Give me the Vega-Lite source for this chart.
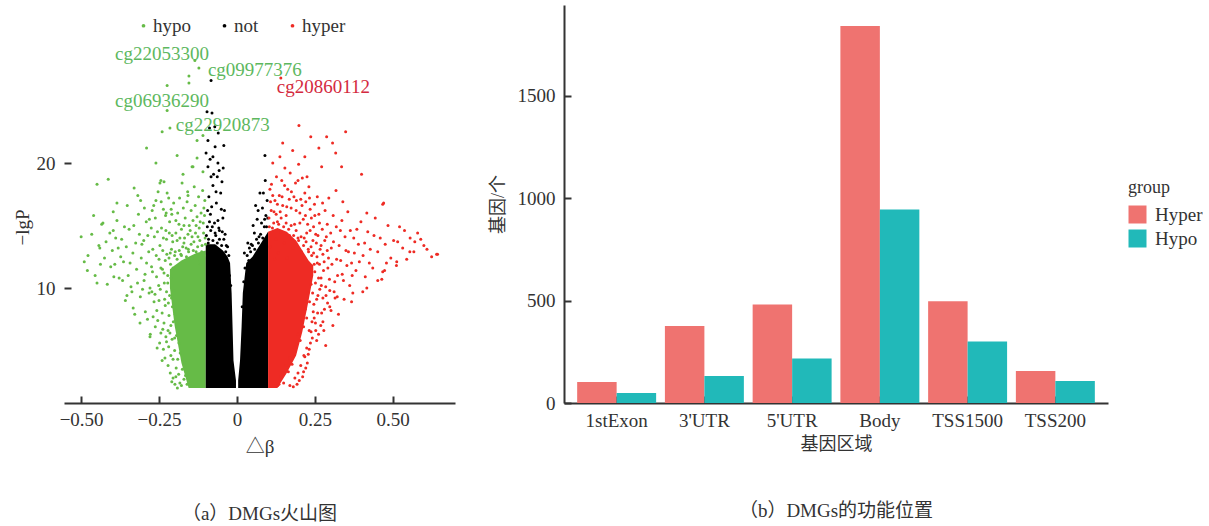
{
  "$schema": "https://vega.github.io/schema/vega-lite/v6.json",
  "padding": {"left": 13, "top": 5, "right": 0, "bottom": 0},
  "background": "white",
  "spacing": 34,
  "resolve": {"scale": {"color": "independent"}, "legend": {"color": "independent"}},
  "config": {
    "view": {"stroke": null},
    "font": "Liberation Serif",
    "axis": {
      "labelFont": "Liberation Serif", "labelFontSize": 19, "labelColor": "#333",
      "titleFont": "Liberation Serif, Noto Sans CJK SC", "titleFontSize": 19, "titleColor": "#333", "titleFontWeight": "normal",
      "domainColor": "#333", "domainWidth": 2, "tickColor": "#333", "tickWidth": 2, "tickSize": -7, "grid": false
    }
  },
  "datasets": {
    "cores": [
      {"d": -0.215, "bot": 10, "top": 11.5, "g": "hypo", "part": "h"},
      {"d": -0.2, "bot": 7, "top": 11.8, "g": "hypo", "part": "h"},
      {"d": -0.178, "bot": 4, "top": 12.2, "g": "hypo", "part": "h"},
      {"d": -0.155, "bot": 2, "top": 12.5, "g": "hypo", "part": "h"},
      {"d": -0.13, "bot": 2, "top": 12.8, "g": "hypo", "part": "h"},
      {"d": -0.1, "bot": 2, "top": 13, "g": "hypo", "part": "h"},
      {"d": -0.1, "bot": 2, "top": 13.5, "g": "not", "part": "nl"},
      {"d": -0.07, "bot": 2, "top": 13.5, "g": "not", "part": "nl"},
      {"d": -0.045, "bot": 2, "top": 13, "g": "not", "part": "nl"},
      {"d": -0.03, "bot": 2, "top": 12.5, "g": "not", "part": "nl"},
      {"d": -0.022, "bot": 2, "top": 12, "g": "not", "part": "nl"},
      {"d": -0.017, "bot": 2, "top": 9.6, "g": "not", "part": "nl"},
      {"d": -0.014, "bot": 2, "top": 6.9, "g": "not", "part": "nl"},
      {"d": -0.011, "bot": 2, "top": 4.2, "g": "not", "part": "nl"},
      {"d": -0.003, "bot": 2, "top": 2.6, "g": "not", "part": "nl"},
      {"d": 0.004, "bot": 2, "top": 2.6, "g": "not", "part": "nr"},
      {"d": 0.01, "bot": 2, "top": 4.2, "g": "not", "part": "nr"},
      {"d": 0.015, "bot": 2, "top": 6.9, "g": "not", "part": "nr"},
      {"d": 0.019, "bot": 2, "top": 9.6, "g": "not", "part": "nr"},
      {"d": 0.03, "bot": 2, "top": 12, "g": "not", "part": "nr"},
      {"d": 0.05, "bot": 2, "top": 12.5, "g": "not", "part": "nr"},
      {"d": 0.075, "bot": 2, "top": 13.5, "g": "not", "part": "nr"},
      {"d": 0.1, "bot": 2, "top": 14.5, "g": "not", "part": "nr"},
      {"d": 0.1, "bot": 2, "top": 14.5, "g": "hyper", "part": "r"},
      {"d": 0.13, "bot": 2, "top": 14.8, "g": "hyper", "part": "r"},
      {"d": 0.16, "bot": 3.2, "top": 14.5, "g": "hyper", "part": "r"},
      {"d": 0.19, "bot": 4.6, "top": 13.8, "g": "hyper", "part": "r"},
      {"d": 0.21, "bot": 6.5, "top": 13, "g": "hyper", "part": "r"},
      {"d": 0.23, "bot": 9, "top": 12.2, "g": "hyper", "part": "r"},
      {"d": 0.245, "bot": 11, "top": 11.8, "g": "hyper", "part": "r"}
    ],
    "pts": [
      {"d":-0.105,"p":12.6,"g":"hypo"},{"d":-0.112,"p":13.4,"g":"hypo"},{"d":-0.118,"p":12.2,"g":"hypo"},{"d":-0.125,"p":14.1,"g":"hypo"},{"d":-0.131,"p":12.9,"g":"hypo"},{"d":-0.138,"p":13.7,"g":"hypo"},{"d":-0.144,"p":12.4,"g":"hypo"},{"d":-0.15,"p":14.6,"g":"hypo"},{"d":-0.156,"p":13.1,"g":"hypo"},{"d":-0.162,"p":12.5,"g":"hypo"},
      {"d":-0.168,"p":14.0,"g":"hypo"},{"d":-0.174,"p":13.3,"g":"hypo"},{"d":-0.18,"p":12.7,"g":"hypo"},{"d":-0.186,"p":15.1,"g":"hypo"},{"d":-0.192,"p":13.8,"g":"hypo"},{"d":-0.198,"p":12.9,"g":"hypo"},{"d":-0.108,"p":15.2,"g":"hypo"},{"d":-0.115,"p":16.0,"g":"hypo"},{"d":-0.121,"p":14.8,"g":"hypo"},{"d":-0.128,"p":15.7,"g":"hypo"},
      {"d":-0.134,"p":16.6,"g":"hypo"},{"d":-0.141,"p":15.4,"g":"hypo"},{"d":-0.147,"p":16.2,"g":"hypo"},{"d":-0.153,"p":15.0,"g":"hypo"},{"d":-0.16,"p":16.9,"g":"hypo"},{"d":-0.166,"p":15.6,"g":"hypo"},{"d":-0.172,"p":16.4,"g":"hypo"},{"d":-0.178,"p":14.7,"g":"hypo"},{"d":-0.184,"p":17.2,"g":"hypo"},{"d":-0.19,"p":16.0,"g":"hypo"},
      {"d":-0.196,"p":14.4,"g":"hypo"},{"d":-0.103,"p":17.0,"g":"hypo"},{"d":-0.11,"p":17.8,"g":"hypo"},{"d":-0.123,"p":17.3,"g":"hypo"},{"d":-0.137,"p":18.1,"g":"hypo"},{"d":-0.158,"p":17.7,"g":"hypo"},{"d":-0.176,"p":18.4,"g":"hypo"},{"d":-0.102,"p":14.0,"g":"hypo"},{"d":-0.117,"p":11.9,"g":"hypo"},{"d":-0.106,"p":16.4,"g":"hypo"},
      {"d":-0.205,"p":11.6,"g":"hypo"},{"d":-0.21,"p":9.2,"g":"hypo"},{"d":-0.214,"p":12.8,"g":"hypo"},{"d":-0.218,"p":7.8,"g":"hypo"},{"d":-0.222,"p":10.4,"g":"hypo"},{"d":-0.226,"p":13.9,"g":"hypo"},{"d":-0.23,"p":8.6,"g":"hypo"},{"d":-0.234,"p":11.2,"g":"hypo"},{"d":-0.238,"p":6.7,"g":"hypo"},{"d":-0.242,"p":14.8,"g":"hypo"},
      {"d":-0.246,"p":9.9,"g":"hypo"},{"d":-0.25,"p":12.3,"g":"hypo"},{"d":-0.254,"p":7.4,"g":"hypo"},{"d":-0.258,"p":10.9,"g":"hypo"},{"d":-0.262,"p":15.6,"g":"hypo"},{"d":-0.266,"p":8.9,"g":"hypo"},{"d":-0.27,"p":13.1,"g":"hypo"},{"d":-0.274,"p":11.7,"g":"hypo"},{"d":-0.278,"p":6.3,"g":"hypo"},{"d":-0.282,"p":9.6,"g":"hypo"},
      {"d":-0.286,"p":14.2,"g":"hypo"},{"d":-0.29,"p":12.0,"g":"hypo"},{"d":-0.294,"p":8.1,"g":"hypo"},{"d":-0.298,"p":10.6,"g":"hypo"},{"d":-0.208,"p":5.9,"g":"hypo"},{"d":-0.212,"p":4.6,"g":"hypo"},{"d":-0.219,"p":5.3,"g":"hypo"},{"d":-0.195,"p":3.6,"g":"hypo"},{"d":-0.2,"p":5.0,"g":"hypo"},{"d":-0.187,"p":3.1,"g":"hypo"},
      {"d":-0.183,"p":2.4,"g":"hypo"},{"d":-0.228,"p":6.1,"g":"hypo"},{"d":-0.236,"p":16.3,"g":"hypo"},{"d":-0.248,"p":5.6,"g":"hypo"},{"d":-0.26,"p":17.0,"g":"hypo"},{"d":-0.272,"p":16.2,"g":"hypo"},{"d":-0.216,"p":15.3,"g":"hypo"},{"d":-0.224,"p":17.6,"g":"hypo"},{"d":-0.244,"p":18.6,"g":"hypo"},{"d":-0.203,"p":16.8,"g":"hypo"},
      {"d":-0.305,"p":13.5,"g":"hypo"},{"d":-0.31,"p":9.3,"g":"hypo"},{"d":-0.316,"p":15.9,"g":"hypo"},{"d":-0.322,"p":11.5,"g":"hypo"},{"d":-0.328,"p":7.9,"g":"hypo"},{"d":-0.334,"p":12.8,"g":"hypo"},{"d":-0.34,"p":10.1,"g":"hypo"},{"d":-0.346,"p":14.7,"g":"hypo"},{"d":-0.352,"p":16.6,"g":"hypo"},{"d":-0.358,"p":9.0,"g":"hypo"},
      {"d":-0.364,"p":12.1,"g":"hypo"},{"d":-0.37,"p":13.9,"g":"hypo"},{"d":-0.378,"p":10.8,"g":"hypo"},{"d":-0.385,"p":15.4,"g":"hypo"},{"d":-0.392,"p":11.9,"g":"hypo"},{"d":-0.4,"p":13.0,"g":"hypo"},{"d":-0.408,"p":14.4,"g":"hypo"},{"d":-0.416,"p":10.3,"g":"hypo"},{"d":-0.425,"p":12.4,"g":"hypo"},{"d":-0.434,"p":15.1,"g":"hypo"},
      {"d":-0.443,"p":13.4,"g":"hypo"},{"d":-0.455,"p":11.0,"g":"hypo"},{"d":-0.466,"p":14.3,"g":"hypo"},{"d":-0.478,"p":12.6,"g":"hypo"},{"d":-0.318,"p":17.4,"g":"hypo"},{"d":-0.33,"p":18.0,"g":"hypo"},
      {"d":-0.5,"p":14.1,"g":"hypo"},{"d":-0.49,"p":12.1,"g":"hypo"},{"d":-0.48,"p":11.4,"g":"hypo"},{"d":-0.449,"p":10.4,"g":"hypo"},{"d":-0.46,"p":15.8,"g":"hypo"},{"d":-0.43,"p":15.2,"g":"hypo"},{"d":-0.385,"p":16.8,"g":"hypo"},{"d":-0.397,"p":14.6,"g":"hypo"},{"d":-0.44,"p":13.2,"g":"hypo"},{"d":-0.353,"p":9.4,"g":"hypo"},
      {"d":-0.333,"p":8.4,"g":"hypo"},{"d":-0.311,"p":7.2,"g":"hypo"},{"d":-0.279,"p":6.1,"g":"hypo"},{"d":-0.256,"p":5.2,"g":"hypo"},{"d":-0.205,"p":2.8,"g":"hypo"},{"d":-0.24,"p":4.2,"g":"hypo"},
      {"d":-0.122,"p":27.6,"g":"hypo"},{"d":-0.154,"p":26.96,"g":"hypo"},{"d":-0.154,"p":26.4,"g":"hypo"},{"d":-0.224,"p":26.2,"g":"hypo"},{"d":-0.135,"p":28.2,"g":"hypo"},{"d":-0.224,"p":24.2,"g":"hypo"},{"d":-0.24,"p":22.5,"g":"hypo"},{"d":-0.215,"p":22.8,"g":"hypo"},{"d":-0.29,"p":21.2,"g":"hypo"},{"d":-0.128,"p":21.8,"g":"hypo"},
      {"d":-0.109,"p":22.2,"g":"hypo"},{"d":-0.26,"p":20.0,"g":"hypo"},{"d":-0.192,"p":20.6,"g":"hypo"},{"d":-0.144,"p":19.7,"g":"hypo"},{"d":-0.449,"p":18.3,"g":"hypo"},{"d":-0.413,"p":18.7,"g":"hypo"},{"d":-0.397,"p":16.1,"g":"hypo"},{"d":-0.247,"p":18.4,"g":"hypo"},{"d":-0.234,"p":18.5,"g":"hypo"},{"d":-0.173,"p":19.1,"g":"hypo"},
      {"d":-0.128,"p":20.4,"g":"hypo"},{"d":-0.141,"p":19.7,"g":"hypo"},{"d":-0.109,"p":19.3,"g":"hypo"},{"d":-0.157,"p":17.4,"g":"hypo"},
      {"d":-0.16,"p":2.3,"g":"hypo"},{"d":-0.165,"p":3.0,"g":"hypo"},{"d":-0.17,"p":2.7,"g":"hypo"},{"d":-0.175,"p":3.5,"g":"hypo"},{"d":-0.168,"p":4.1,"g":"hypo"},{"d":-0.182,"p":4.8,"g":"hypo"},{"d":-0.19,"p":4.3,"g":"hypo"},{"d":-0.186,"p":5.6,"g":"hypo"},{"d":-0.194,"p":6.2,"g":"hypo"},{"d":-0.2,"p":6.0,"g":"hypo"},
      {"d":-0.204,"p":7.3,"g":"hypo"},{"d":-0.198,"p":7.9,"g":"hypo"},{"d":-0.207,"p":8.5,"g":"hypo"},{"d":-0.212,"p":7.0,"g":"hypo"},{"d":-0.216,"p":9.4,"g":"hypo"},{"d":-0.22,"p":8.8,"g":"hypo"},{"d":-0.222,"p":11.0,"g":"hypo"},{"d":-0.226,"p":9.7,"g":"hypo"},{"d":-0.23,"p":12.2,"g":"hypo"},{"d":-0.218,"p":12.4,"g":"hypo"},
      {"d":-0.21,"p":13.1,"g":"hypo"},{"d":-0.2,"p":12.6,"g":"hypo"},{"d":-0.192,"p":12.3,"g":"hypo"},{"d":-0.185,"p":13.0,"g":"hypo"},{"d":-0.178,"p":12.6,"g":"hypo"},{"d":-0.17,"p":13.6,"g":"hypo"},{"d":-0.163,"p":13.2,"g":"hypo"},{"d":-0.155,"p":12.9,"g":"hypo"},{"d":-0.147,"p":13.5,"g":"hypo"},{"d":-0.14,"p":13.0,"g":"hypo"},
      {"d":-0.133,"p":14.4,"g":"hypo"},{"d":-0.126,"p":13.3,"g":"hypo"},{"d":-0.119,"p":13.8,"g":"hypo"},{"d":-0.113,"p":12.9,"g":"hypo"},{"d":-0.107,"p":14.4,"g":"hypo"},{"d":-0.101,"p":13.5,"g":"hypo"},{"d":-0.104,"p":15.8,"g":"hypo"},{"d":-0.118,"p":15.3,"g":"hypo"},{"d":-0.131,"p":15.0,"g":"hypo"},{"d":-0.144,"p":14.1,"g":"hypo"},
      {"d":-0.157,"p":14.3,"g":"hypo"},{"d":-0.17,"p":15.0,"g":"hypo"},{"d":-0.183,"p":14.0,"g":"hypo"},{"d":-0.196,"p":15.4,"g":"hypo"},{"d":-0.208,"p":14.2,"g":"hypo"},{"d":-0.233,"p":10.4,"g":"hypo"},{"d":-0.238,"p":13.0,"g":"hypo"},{"d":-0.244,"p":11.6,"g":"hypo"},{"d":-0.228,"p":14.6,"g":"hypo"},{"d":-0.212,"p":10.8,"g":"hypo"},
      {"d":-0.24,"p":8.0,"g":"hypo"},{"d":-0.25,"p":9.0,"g":"hypo"},{"d":-0.234,"p":7.2,"g":"hypo"},{"d":-0.226,"p":5.7,"g":"hypo"},{"d":-0.215,"p":6.4,"g":"hypo"},{"d":-0.205,"p":4.3,"g":"hypo"},{"d":-0.196,"p":2.9,"g":"hypo"},{"d":-0.178,"p":2.2,"g":"hypo"},
      {"d":-0.202,"p":9.8,"g":"hypo"},{"d":-0.206,"p":13.7,"g":"hypo"},{"d":-0.209,"p":15.9,"g":"hypo"},{"d":-0.213,"p":11.9,"g":"hypo"},{"d":-0.217,"p":14.4,"g":"hypo"},{"d":-0.221,"p":6.6,"g":"hypo"},{"d":-0.225,"p":12.7,"g":"hypo"},{"d":-0.229,"p":15.8,"g":"hypo"},{"d":-0.232,"p":9.1,"g":"hypo"},{"d":-0.236,"p":14.0,"g":"hypo"},
      {"d":-0.239,"p":11.5,"g":"hypo"},{"d":-0.243,"p":16.9,"g":"hypo"},{"d":-0.247,"p":13.4,"g":"hypo"},{"d":-0.251,"p":10.2,"g":"hypo"},{"d":-0.255,"p":14.5,"g":"hypo"},{"d":-0.259,"p":12.6,"g":"hypo"},{"d":-0.263,"p":9.5,"g":"hypo"},{"d":-0.267,"p":16.6,"g":"hypo"},{"d":-0.271,"p":11.3,"g":"hypo"},{"d":-0.275,"p":14.8,"g":"hypo"},
      {"d":-0.279,"p":10.0,"g":"hypo"},{"d":-0.283,"p":12.9,"g":"hypo"},{"d":-0.287,"p":7.5,"g":"hypo"},{"d":-0.291,"p":15.3,"g":"hypo"},{"d":-0.295,"p":11.1,"g":"hypo"},{"d":-0.299,"p":13.8,"g":"hypo"},{"d":-0.303,"p":9.9,"g":"hypo"},{"d":-0.307,"p":12.4,"g":"hypo"},{"d":-0.313,"p":14.3,"g":"hypo"},{"d":-0.319,"p":10.4,"g":"hypo"},
      {"d":-0.325,"p":13.6,"g":"hypo"},{"d":-0.331,"p":15.0,"g":"hypo"},{"d":-0.337,"p":9.7,"g":"hypo"},{"d":-0.343,"p":12.0,"g":"hypo"},{"d":-0.349,"p":11.0,"g":"hypo"},{"d":-0.355,"p":13.3,"g":"hypo"},{"d":-0.361,"p":14.9,"g":"hypo"},{"d":-0.367,"p":10.6,"g":"hypo"},{"d":-0.373,"p":12.5,"g":"hypo"},{"d":-0.381,"p":13.2,"g":"hypo"},
      {"d":-0.389,"p":14.0,"g":"hypo"},{"d":-0.395,"p":10.9,"g":"hypo"},{"d":-0.405,"p":11.7,"g":"hypo"},{"d":-0.42,"p":13.7,"g":"hypo"},{"d":-0.438,"p":11.9,"g":"hypo"},{"d":-0.211,"p":16.3,"g":"hypo"},{"d":-0.219,"p":17.2,"g":"hypo"},{"d":-0.227,"p":16.0,"g":"hypo"},{"d":-0.253,"p":17.7,"g":"hypo"},{"d":-0.265,"p":14.1,"g":"hypo"},
      {"d":-0.281,"p":15.5,"g":"hypo"},{"d":-0.297,"p":16.4,"g":"hypo"},{"d":-0.309,"p":17.0,"g":"hypo"},{"d":-0.257,"p":8.2,"g":"hypo"},{"d":-0.262,"p":6.9,"g":"hypo"},{"d":-0.269,"p":7.7,"g":"hypo"},{"d":-0.273,"p":9.7,"g":"hypo"},{"d":-0.244,"p":6.4,"g":"hypo"},{"d":-0.236,"p":5.1,"g":"hypo"},{"d":-0.231,"p":4.4,"g":"hypo"},
      {"d":-0.221,"p":3.8,"g":"hypo"},{"d":-0.214,"p":3.2,"g":"hypo"},{"d":-0.209,"p":2.5,"g":"hypo"},{"d":-0.199,"p":2.3,"g":"hypo"},{"d":-0.191,"p":2.0,"g":"hypo"},
      {"d":-0.093,"p":21.8,"g":"not"},{"d":-0.07,"p":21.3,"g":"not"},{"d":-0.042,"p":21.4,"g":"not"},{"d":-0.077,"p":20.5,"g":"not"},{"d":-0.061,"p":20.0,"g":"not"},{"d":-0.093,"p":19.7,"g":"not"},{"d":-0.077,"p":18.2,"g":"not"},{"d":-0.048,"p":18.5,"g":"not"},{"d":-0.083,"p":26.6,"g":"not"},{"d":-0.096,"p":24.1,"g":"not"},
      {"d":-0.08,"p":24.0,"g":"not"},{"d":-0.09,"p":17.3,"g":"not"},{"d":-0.066,"p":16.8,"g":"not"},{"d":-0.052,"p":17.6,"g":"not"},{"d":-0.085,"p":15.9,"g":"not"},{"d":-0.072,"p":15.2,"g":"not"},{"d":-0.058,"p":14.8,"g":"not"},{"d":-0.045,"p":15.6,"g":"not"},{"d":-0.095,"p":14.9,"g":"not"},{"d":-0.038,"p":14.3,"g":"not"},
      {"d":-0.063,"p":18.9,"g":"not"},{"d":-0.088,"p":22.8,"g":"not"},{"d":-0.05,"p":16.3,"g":"not"},{"d":-0.081,"p":16.5,"g":"not"},{"d":-0.068,"p":14.2,"g":"not"},{"d":-0.034,"p":13.4,"g":"not"},{"d":-0.056,"p":13.9,"g":"not"},{"d":-0.092,"p":13.6,"g":"not"},{"d":-0.075,"p":19.1,"g":"not"},{"d":-0.044,"p":19.6,"g":"not"},
      {"d":-0.099,"p":20.8,"g":"not"},{"d":-0.06,"p":22.4,"g":"not"},
      {"d":-0.098,"p":14.2,"g":"not"},{"d":-0.091,"p":13.9,"g":"not"},{"d":-0.084,"p":14.6,"g":"not"},{"d":-0.077,"p":13.8,"g":"not"},{"d":-0.07,"p":14.4,"g":"not"},{"d":-0.063,"p":13.6,"g":"not"},{"d":-0.056,"p":14.6,"g":"not"},{"d":-0.049,"p":13.4,"g":"not"},{"d":-0.042,"p":13.9,"g":"not"},{"d":-0.036,"p":12.9,"g":"not"},
      {"d":-0.03,"p":13.3,"g":"not"},{"d":-0.026,"p":12.6,"g":"not"},{"d":-0.024,"p":11.0,"g":"not"},{"d":-0.02,"p":10.2,"g":"not"},{"d":-0.088,"p":15.3,"g":"not"},{"d":-0.079,"p":14.9,"g":"not"},{"d":-0.061,"p":15.4,"g":"not"},{"d":-0.047,"p":14.5,"g":"not"},{"d":-0.04,"p":16.2,"g":"not"},{"d":-0.094,"p":16.2,"g":"not"},
      {"d":-0.067,"p":17.7,"g":"not"},{"d":-0.083,"p":18.9,"g":"not"},{"d":-0.057,"p":19.4,"g":"not"},{"d":-0.071,"p":22.9,"g":"not"},{"d":-0.086,"p":20.3,"g":"not"},
      {"d":0.09,"p":20.6,"g":"not"},{"d":0.074,"p":17.6,"g":"not"},{"d":0.082,"p":16.4,"g":"not"},{"d":0.065,"p":15.5,"g":"not"},{"d":0.093,"p":15.8,"g":"not"},{"d":0.056,"p":14.4,"g":"not"},{"d":0.071,"p":14.1,"g":"not"},{"d":0.088,"p":14.9,"g":"not"},{"d":0.046,"p":13.5,"g":"not"},{"d":0.06,"p":16.6,"g":"not"},
      {"d":0.079,"p":15.2,"g":"not"},{"d":0.097,"p":17.0,"g":"not"},{"d":0.04,"p":13.2,"g":"not"},{"d":0.052,"p":15.0,"g":"not"},
      {"d":0.022,"p":10.5,"g":"not"},{"d":0.026,"p":11.6,"g":"not"},{"d":0.033,"p":12.6,"g":"not"},{"d":0.038,"p":12.2,"g":"not"},{"d":0.044,"p":12.9,"g":"not"},{"d":0.05,"p":13.4,"g":"not"},{"d":0.057,"p":13.1,"g":"not"},{"d":0.063,"p":13.9,"g":"not"},{"d":0.069,"p":13.6,"g":"not"},{"d":0.076,"p":14.3,"g":"not"},
      {"d":0.083,"p":14.0,"g":"not"},{"d":0.089,"p":15.5,"g":"not"},{"d":0.095,"p":14.9,"g":"not"},{"d":0.099,"p":15.6,"g":"not"},{"d":0.085,"p":17.6,"g":"not"},{"d":0.068,"p":16.2,"g":"not"},{"d":0.091,"p":18.6,"g":"not"},{"d":0.035,"p":13.6,"g":"not"},{"d":0.024,"p":12.8,"g":"not"},{"d":0.017,"p":8.5,"g":"not"},
      {"d":0.103,"p":15.6,"g":"hyper"},{"d":0.108,"p":16.9,"g":"hyper"},{"d":0.114,"p":14.8,"g":"hyper"},{"d":0.119,"p":16.1,"g":"hyper"},{"d":0.125,"p":13.9,"g":"hyper"},{"d":0.13,"p":15.3,"g":"hyper"},{"d":0.136,"p":17.4,"g":"hyper"},{"d":0.141,"p":14.5,"g":"hyper"},{"d":0.147,"p":16.6,"g":"hyper"},{"d":0.152,"p":13.6,"g":"hyper"},
      {"d":0.158,"p":15.8,"g":"hyper"},{"d":0.163,"p":17.9,"g":"hyper"},{"d":0.169,"p":14.2,"g":"hyper"},{"d":0.174,"p":16.4,"g":"hyper"},{"d":0.18,"p":13.2,"g":"hyper"},{"d":0.185,"p":15.1,"g":"hyper"},{"d":0.191,"p":17.0,"g":"hyper"},{"d":0.196,"p":14.0,"g":"hyper"},{"d":0.202,"p":16.0,"g":"hyper"},{"d":0.207,"p":12.9,"g":"hyper"},
      {"d":0.213,"p":15.5,"g":"hyper"},{"d":0.218,"p":17.6,"g":"hyper"},{"d":0.224,"p":14.4,"g":"hyper"},{"d":0.229,"p":13.1,"g":"hyper"},{"d":0.235,"p":16.3,"g":"hyper"},{"d":0.24,"p":12.6,"g":"hyper"},{"d":0.246,"p":14.9,"g":"hyper"},{"d":0.111,"p":18.3,"g":"hyper"},{"d":0.127,"p":18.9,"g":"hyper"},{"d":0.144,"p":18.6,"g":"hyper"},
      {"d":0.171,"p":19.2,"g":"hyper"},{"d":0.188,"p":18.4,"g":"hyper"},{"d":0.21,"p":18.8,"g":"hyper"},{"d":0.133,"p":12.8,"g":"hyper"},{"d":0.161,"p":12.4,"g":"hyper"},{"d":0.106,"p":13.3,"g":"hyper"},{"d":0.121,"p":12.3,"g":"hyper"},{"d":0.154,"p":19.6,"g":"hyper"},{"d":0.198,"p":19.9,"g":"hyper"},{"d":0.225,"p":18.9,"g":"hyper"},
      {"d":0.25,"p":11.3,"g":"hyper"},{"d":0.255,"p":13.6,"g":"hyper"},{"d":0.26,"p":9.4,"g":"hyper"},{"d":0.265,"p":15.2,"g":"hyper"},{"d":0.27,"p":10.8,"g":"hyper"},{"d":0.276,"p":12.7,"g":"hyper"},{"d":0.281,"p":8.3,"g":"hyper"},{"d":0.287,"p":14.1,"g":"hyper"},{"d":0.292,"p":11.6,"g":"hyper"},{"d":0.298,"p":9.8,"g":"hyper"},
      {"d":0.303,"p":13.2,"g":"hyper"},{"d":0.309,"p":15.8,"g":"hyper"},{"d":0.314,"p":10.5,"g":"hyper"},{"d":0.32,"p":12.3,"g":"hyper"},{"d":0.326,"p":7.9,"g":"hyper"},{"d":0.332,"p":14.6,"g":"hyper"},{"d":0.338,"p":11.1,"g":"hyper"},{"d":0.344,"p":9.1,"g":"hyper"},{"d":0.35,"p":13.0,"g":"hyper"},{"d":0.356,"p":16.1,"g":"hyper"},
      {"d":0.362,"p":10.2,"g":"hyper"},{"d":0.368,"p":12.0,"g":"hyper"},{"d":0.375,"p":14.0,"g":"hyper"},{"d":0.382,"p":11.4,"g":"hyper"},{"d":0.39,"p":13.5,"g":"hyper"},{"d":0.398,"p":15.3,"g":"hyper"},{"d":0.245,"p":8.1,"g":"hyper"},{"d":0.238,"p":6.5,"g":"hyper"},{"d":0.252,"p":7.2,"g":"hyper"},{"d":0.232,"p":5.1,"g":"hyper"},
      {"d":0.226,"p":4.0,"g":"hyper"},{"d":0.214,"p":3.3,"g":"hyper"},{"d":0.2,"p":2.6,"g":"hyper"},{"d":0.262,"p":6.3,"g":"hyper"},{"d":0.275,"p":16.8,"g":"hyper"},{"d":0.295,"p":17.2,"g":"hyper"},{"d":0.318,"p":17.8,"g":"hyper"},{"d":0.34,"p":16.9,"g":"hyper"},{"d":0.285,"p":5.4,"g":"hyper"},{"d":0.308,"p":7.0,"g":"hyper"},
      {"d":0.405,"p":12.6,"g":"hyper"},{"d":0.412,"p":10.9,"g":"hyper"},{"d":0.42,"p":14.5,"g":"hyper"},{"d":0.428,"p":13.1,"g":"hyper"},{"d":0.436,"p":11.6,"g":"hyper"},{"d":0.444,"p":15.6,"g":"hyper"},{"d":0.452,"p":12.9,"g":"hyper"},{"d":0.46,"p":14.0,"g":"hyper"},{"d":0.468,"p":11.3,"g":"hyper"},{"d":0.476,"p":13.5,"g":"hyper"},
      {"d":0.485,"p":15.0,"g":"hyper"},{"d":0.494,"p":12.4,"g":"hyper"},{"d":0.503,"p":13.8,"g":"hyper"},{"d":0.512,"p":11.8,"g":"hyper"},{"d":0.522,"p":14.9,"g":"hyper"},{"d":0.532,"p":13.2,"g":"hyper"},{"d":0.545,"p":12.3,"g":"hyper"},{"d":0.556,"p":14.0,"g":"hyper"},{"d":0.568,"p":12.9,"g":"hyper"},{"d":0.59,"p":13.9,"g":"hyper"},
      {"d":0.61,"p":13.1,"g":"hyper"},{"d":0.625,"p":12.5,"g":"hyper"},
      {"d":0.644,"p":12.7,"g":"hyper"},{"d":0.6,"p":13.4,"g":"hyper"},{"d":0.58,"p":14.4,"g":"hyper"},{"d":0.538,"p":14.6,"g":"hyper"},{"d":0.571,"p":13.7,"g":"hyper"},{"d":0.48,"p":12.0,"g":"hyper"},{"d":0.474,"p":11.4,"g":"hyper"},{"d":0.452,"p":10.6,"g":"hyper"},{"d":0.417,"p":10.0,"g":"hyper"},{"d":0.368,"p":8.9,"g":"hyper"},
      {"d":0.468,"p":16.7,"g":"hyper"},{"d":0.417,"p":16.0,"g":"hyper"},{"d":0.516,"p":13.7,"g":"hyper"},{"d":0.555,"p":12.9,"g":"hyper"},{"d":0.513,"p":12.1,"g":"hyper"},{"d":0.256,"p":5.8,"g":"hyper"},{"d":0.218,"p":4.5,"g":"hyper"},{"d":0.276,"p":7.3,"g":"hyper"},{"d":0.298,"p":8.5,"g":"hyper"},{"d":0.372,"p":9.6,"g":"hyper"},
      {"d":0.404,"p":9.7,"g":"hyper"},{"d":0.465,"p":10.7,"g":"hyper"},{"d":0.131,"p":2.2,"g":"hyper"},{"d":0.471,"p":16.8,"g":"hyper"},{"d":0.641,"p":12.7,"g":"hyper"},{"d":0.317,"p":20.8,"g":"hyper"},{"d":0.4,"p":19.1,"g":"hyper"},
      {"d":0.199,"p":23.0,"g":"hyper"},{"d":0.349,"p":22.5,"g":"hyper"},{"d":0.237,"p":22.1,"g":"hyper"},{"d":0.288,"p":22.1,"g":"hyper"},{"d":0.307,"p":21.6,"g":"hyper"},{"d":0.147,"p":21.6,"g":"hyper"},{"d":0.179,"p":21.0,"g":"hyper"},{"d":0.263,"p":21.2,"g":"hyper"},{"d":0.115,"p":20.0,"g":"hyper"},{"d":0.138,"p":20.5,"g":"hyper"},
      {"d":0.218,"p":20.5,"g":"hyper"},{"d":0.272,"p":19.7,"g":"hyper"},{"d":0.336,"p":19.7,"g":"hyper"},{"d":0.141,"p":26.8,"g":"hyper"},
      {"d":0.135,"p":2.3,"g":"hyper"},{"d":0.142,"p":2.9,"g":"hyper"},{"d":0.15,"p":2.4,"g":"hyper"},{"d":0.158,"p":3.8,"g":"hyper"},{"d":0.165,"p":3.3,"g":"hyper"},{"d":0.17,"p":4.4,"g":"hyper"},{"d":0.177,"p":3.9,"g":"hyper"},{"d":0.184,"p":5.2,"g":"hyper"},{"d":0.19,"p":5.5,"g":"hyper"},{"d":0.196,"p":6.3,"g":"hyper"},
      {"d":0.203,"p":5.8,"g":"hyper"},{"d":0.208,"p":7.4,"g":"hyper"},{"d":0.214,"p":6.9,"g":"hyper"},{"d":0.219,"p":8.3,"g":"hyper"},{"d":0.224,"p":7.6,"g":"hyper"},{"d":0.228,"p":9.6,"g":"hyper"},{"d":0.233,"p":8.9,"g":"hyper"},{"d":0.238,"p":10.3,"g":"hyper"},{"d":0.243,"p":9.6,"g":"hyper"},{"d":0.248,"p":11.9,"g":"hyper"},
      {"d":0.252,"p":10.4,"g":"hyper"},{"d":0.257,"p":12.5,"g":"hyper"},{"d":0.246,"p":12.8,"g":"hyper"},{"d":0.238,"p":13.3,"g":"hyper"},{"d":0.23,"p":12.9,"g":"hyper"},{"d":0.222,"p":13.7,"g":"hyper"},{"d":0.214,"p":13.4,"g":"hyper"},{"d":0.206,"p":14.1,"g":"hyper"},{"d":0.198,"p":13.8,"g":"hyper"},{"d":0.19,"p":14.6,"g":"hyper"},
      {"d":0.182,"p":14.2,"g":"hyper"},{"d":0.174,"p":15.0,"g":"hyper"},{"d":0.166,"p":14.7,"g":"hyper"},{"d":0.158,"p":15.2,"g":"hyper"},{"d":0.15,"p":14.9,"g":"hyper"},{"d":0.142,"p":15.6,"g":"hyper"},{"d":0.134,"p":15.1,"g":"hyper"},{"d":0.126,"p":15.9,"g":"hyper"},{"d":0.118,"p":15.2,"g":"hyper"},{"d":0.11,"p":16.2,"g":"hyper"},
      {"d":0.104,"p":14.9,"g":"hyper"},{"d":0.115,"p":17.4,"g":"hyper"},{"d":0.13,"p":16.7,"g":"hyper"},{"d":0.145,"p":17.3,"g":"hyper"},{"d":0.16,"p":16.5,"g":"hyper"},{"d":0.175,"p":17.7,"g":"hyper"},{"d":0.19,"p":16.2,"g":"hyper"},{"d":0.205,"p":17.1,"g":"hyper"},{"d":0.22,"p":15.8,"g":"hyper"},{"d":0.235,"p":14.6,"g":"hyper"},
      {"d":0.25,"p":15.8,"g":"hyper"},{"d":0.26,"p":14.2,"g":"hyper"},{"d":0.265,"p":11.9,"g":"hyper"},{"d":0.27,"p":13.4,"g":"hyper"},{"d":0.262,"p":10.8,"g":"hyper"},{"d":0.256,"p":9.1,"g":"hyper"},{"d":0.248,"p":7.6,"g":"hyper"},{"d":0.242,"p":6.0,"g":"hyper"},{"d":0.232,"p":6.6,"g":"hyper"},{"d":0.224,"p":5.2,"g":"hyper"},
      {"d":0.215,"p":4.6,"g":"hyper"},{"d":0.205,"p":3.8,"g":"hyper"},{"d":0.196,"p":3.2,"g":"hyper"},{"d":0.186,"p":2.8,"g":"hyper"},{"d":0.17,"p":2.2,"g":"hyper"},{"d":0.28,"p":12.1,"g":"hyper"},{"d":0.285,"p":10.1,"g":"hyper"},{"d":0.29,"p":13.0,"g":"hyper"},{"d":0.276,"p":9.2,"g":"hyper"},{"d":0.272,"p":8.0,"g":"hyper"},
      {"d":0.202,"p":15.2,"g":"hyper"},{"d":0.209,"p":16.6,"g":"hyper"},{"d":0.216,"p":14.0,"g":"hyper"},{"d":0.221,"p":16.9,"g":"hyper"},{"d":0.227,"p":15.1,"g":"hyper"},{"d":0.233,"p":17.2,"g":"hyper"},{"d":0.239,"p":15.6,"g":"hyper"},{"d":0.244,"p":13.8,"g":"hyper"},{"d":0.249,"p":16.7,"g":"hyper"},{"d":0.253,"p":14.3,"g":"hyper"},
      {"d":0.258,"p":12.0,"g":"hyper"},{"d":0.263,"p":15.9,"g":"hyper"},{"d":0.267,"p":13.1,"g":"hyper"},{"d":0.271,"p":10.2,"g":"hyper"},{"d":0.274,"p":14.7,"g":"hyper"},{"d":0.278,"p":11.4,"g":"hyper"},{"d":0.282,"p":13.8,"g":"hyper"},{"d":0.286,"p":9.4,"g":"hyper"},{"d":0.29,"p":15.1,"g":"hyper"},{"d":0.294,"p":12.4,"g":"hyper"},
      {"d":0.297,"p":10.7,"g":"hyper"},{"d":0.301,"p":14.4,"g":"hyper"},{"d":0.305,"p":11.9,"g":"hyper"},{"d":0.31,"p":13.7,"g":"hyper"},{"d":0.315,"p":9.2,"g":"hyper"},{"d":0.319,"p":14.9,"g":"hyper"},{"d":0.323,"p":11.0,"g":"hyper"},{"d":0.328,"p":13.4,"g":"hyper"},{"d":0.333,"p":12.2,"g":"hyper"},{"d":0.337,"p":15.4,"g":"hyper"},
      {"d":0.342,"p":10.6,"g":"hyper"},{"d":0.347,"p":14.1,"g":"hyper"},{"d":0.353,"p":11.8,"g":"hyper"},{"d":0.358,"p":12.9,"g":"hyper"},{"d":0.364,"p":14.6,"g":"hyper"},{"d":0.37,"p":11.0,"g":"hyper"},{"d":0.377,"p":12.8,"g":"hyper"},{"d":0.385,"p":14.7,"g":"hyper"},{"d":0.393,"p":12.1,"g":"hyper"},{"d":0.41,"p":13.6,"g":"hyper"},
      {"d":0.425,"p":12.0,"g":"hyper"},{"d":0.44,"p":14.2,"g":"hyper"},{"d":0.241,"p":7.3,"g":"hyper"},{"d":0.247,"p":8.7,"g":"hyper"},{"d":0.253,"p":6.6,"g":"hyper"},{"d":0.259,"p":8.0,"g":"hyper"},{"d":0.266,"p":9.9,"g":"hyper"},{"d":0.269,"p":7.0,"g":"hyper"},{"d":0.279,"p":6.6,"g":"hyper"},{"d":0.291,"p":8.8,"g":"hyper"},
      {"d":0.302,"p":8.2,"g":"hyper"},{"d":0.312,"p":9.7,"g":"hyper"},{"d":0.322,"p":9.3,"g":"hyper"},{"d":0.236,"p":5.6,"g":"hyper"},{"d":0.229,"p":4.7,"g":"hyper"},{"d":0.221,"p":3.6,"g":"hyper"},{"d":0.211,"p":2.9,"g":"hyper"},{"d":0.193,"p":2.3,"g":"hyper"},{"d":0.181,"p":2.1,"g":"hyper"},{"d":0.106,"p":17.9,"g":"hyper"},
      {"d":0.122,"p":17.0,"g":"hyper"},{"d":0.139,"p":16.1,"g":"hyper"},{"d":0.153,"p":18.2,"g":"hyper"},{"d":0.168,"p":17.1,"g":"hyper"},{"d":0.183,"p":17.3,"g":"hyper"},{"d":0.196,"p":18.6,"g":"hyper"},{"d":0.231,"p":18.1,"g":"hyper"},{"d":0.258,"p":17.3,"g":"hyper"},{"d":0.283,"p":16.2,"g":"hyper"}
    ],
    "labs": [
      {"d": -0.391, "p": 28.72, "g": "hypo", "name": "cg22053300"},
      {"d": -0.093, "p": 27.44, "g": "hypo", "name": "cg09977376"},
      {"d": 0.128, "p": 26.08, "g": "hyper", "name": "cg20860112"},
      {"d": -0.391, "p": 24.96, "g": "hypo", "name": "cg06936290"},
      {"d": -0.196, "p": 23.04, "g": "hypo", "name": "cg22920873"}
    ],
    "bars": [
      {"region": "1stExon", "group": "Hyper", "n": 103},
      {"region": "1stExon", "group": "Hypo", "n": 49},
      {"region": "3'UTR", "group": "Hyper", "n": 376},
      {"region": "3'UTR", "group": "Hypo", "n": 132},
      {"region": "5'UTR", "group": "Hyper", "n": 481},
      {"region": "5'UTR", "group": "Hypo", "n": 217},
      {"region": "Body", "group": "Hyper", "n": 1842},
      {"region": "Body", "group": "Hypo", "n": 945},
      {"region": "TSS1500", "group": "Hyper", "n": 497},
      {"region": "TSS1500", "group": "Hypo", "n": 301},
      {"region": "TSS200", "group": "Hyper", "n": 156},
      {"region": "TSS200", "group": "Hypo", "n": 107}
    ]
  },
  "hconcat": [
    {
      "width": 391,
      "height": 398,
      "title": {"text": "（a）DMGs火山图", "orient": "bottom", "frame": "group", "anchor": "middle", "offset": 49, "font": "Liberation Serif, Noto Sans CJK SC", "fontSize": 19, "fontWeight": "normal", "color": "#333"},
      "encoding": {
        "x": {"field": "d", "type": "quantitative",
              "scale": {"domain": [-0.555, 0.7], "nice": false, "zero": false},
              "axis": {"values": [-0.5, -0.25, 0, 0.25, 0.5], "labelExpr": "datum.value == 0 ? '0' : format(datum.value, '.2f')", "title": "△β", "labelPadding": 14, "titlePadding": 8}}
      },
      "layer": [
        {
          "data": {"name": "cores"},
          "mark": {"type": "area", "opacity": 1},
          "encoding": {
            "y": {"field": "top", "type": "quantitative", "stack": null,
                  "scale": {"domain": [0.8, 32.64], "nice": false, "zero": false},
                  "axis": {"values": [10, 20], "domain": false, "title": "−lgP", "titleY": 222, "labelPadding": 16, "titlePadding": 4}},
            "y2": {"field": "bot"},
            "color": {"field": "g", "type": "nominal", "scale": {"domain": ["hypo", "not", "hyper"], "range": ["#66BB47", "#000000", "#EE2B24"]},
                      "legend": {"orient": "none", "legendX": 70, "legendY": 11, "direction": "horizontal", "title": null, "symbolType": "circle", "symbolSize": 14, "symbolStrokeWidth": 0, "labelFont": "Liberation Serif", "labelFontSize": 19, "labelColor": "#333", "labelOffset": 0, "columnPadding": 24}},
            "detail": {"field": "part"}
          }
        },
        {
          "data": {"name": "pts"},
          "mark": {"type": "point", "filled": true, "size": 9, "opacity": 1},
          "encoding": {
            "y": {"field": "p", "type": "quantitative"},
            "color": {"field": "g", "type": "nominal",
                      "legend": {"orient": "none", "legendX": 70, "legendY": 11, "direction": "horizontal", "title": null, "symbolType": "circle", "symbolSize": 14, "symbolStrokeWidth": 0, "labelFont": "Liberation Serif", "labelFontSize": 19, "labelColor": "#333", "labelOffset": 0, "columnPadding": 24}}
          }
        },
        {
          "data": {"name": "labs"},
          "mark": {"type": "text", "align": "left", "baseline": "middle", "font": "Liberation Serif", "fontSize": 19},
          "encoding": {
            "y": {"field": "p", "type": "quantitative"},
            "text": {"field": "name"},
            "color": {"condition": {"test": "datum.g === 'hyper'", "value": "#D42A40"}, "value": "#5DB85E"}
          }
        },
        {
          "mark": {"type": "rule", "color": "#333", "strokeWidth": 2},
          "encoding": {
            "x": {"datum": -0.555},
            "y": {"datum": 0.8},
            "y2": {"datum": 29.4}
          }
        }
      ]
    },
    {
      "width": 544,
      "height": 398,
      "data": {"name": "bars"},
      "title": {"text": "（b）DMGs的功能位置", "orient": "bottom", "frame": "group", "anchor": "middle", "offset": 49, "font": "Liberation Serif, Noto Sans CJK SC", "fontSize": 19, "fontWeight": "normal", "color": "#333"},
      "mark": {"type": "bar"},
      "encoding": {
        "x": {"field": "region", "type": "nominal", "sort": ["1stExon", "3'UTR", "5'UTR", "Body", "TSS1500", "TSS200"],
              "scale": {"paddingInner": 0.1, "paddingOuter": 0.15},
              "axis": {"labelAngle": 0, "title": "基因区域", "labelPadding": 15, "titlePadding": 5, "titleFontSize": 18}},
        "xOffset": {"field": "group", "type": "nominal", "scale": {"paddingInner": 0, "paddingOuter": 0}},
        "y": {"field": "n", "type": "quantitative",
              "scale": {"domain": [0, 1944], "nice": false},
              "axis": {"values": [0, 500, 1000, 1500], "format": "d", "title": "基因/个", "labelPadding": 16, "titlePadding": 10, "titleFontSize": 18}},
        "color": {"field": "group", "type": "nominal",
                  "scale": {"domain": ["Hyper", "Hypo"], "range": ["#EF7370", "#21B9B9"]},
                  "legend": {"orient": "none", "legendX": 564, "legendY": 174, "title": "group", "titleFont": "Liberation Serif", "titleFontSize": 18, "titleFontWeight": "normal", "titleColor": "#333", "titlePadding": 8, "symbolType": "square", "symbolSize": 324, "symbolStrokeWidth": 0, "symbolOpacity": 1, "labelFont": "Liberation Serif", "labelFontSize": 19, "labelColor": "#333", "labelOffset": 8, "rowPadding": 4}}
      }
    }
  ]
}
